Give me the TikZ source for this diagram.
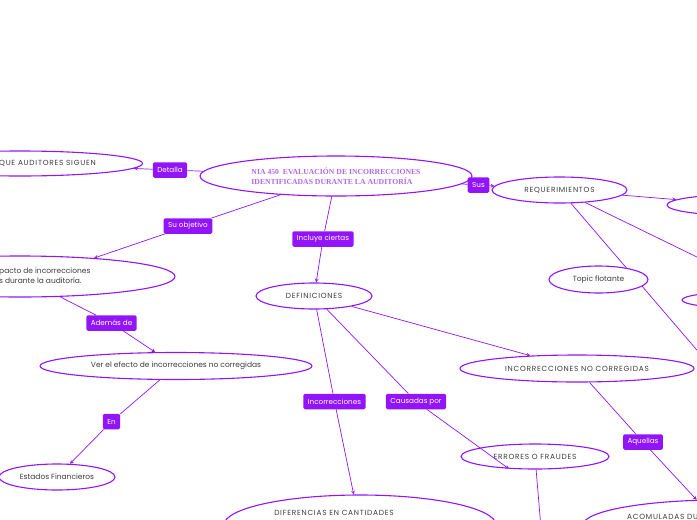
\documentclass[tikz,border=0pt]{standalone}
\usepackage{fontspec}
\setmainfont{Poppins}
\newfontfamily\titlefont{Liberation Serif}
\newfontfamily\capsfont[LetterSpace=10]{Poppins}
\usetikzlibrary{shapes.geometric}

\definecolor{mapline}{RGB}{145,20,250}
\definecolor{maptitle}{RGB}{175,105,235}
\definecolor{maptext}{RGB}{60,60,60}

\begin{document}
\begin{tikzpicture}[x=1pt, y=-1pt, >=stealth,
  topic/.style={ellipse, draw=mapline, line width=1.1pt, inner sep=0pt, text=maptext, font=\fontsize{7.5}{9.5}\selectfont},
  capstopic/.style={topic, font=\capsfont\fontsize{7.4}{9}\selectfont},
  topictext/.style={text=maptext, font=\fontsize{7.5}{9.5}\selectfont, inner sep=0pt},
  capstext/.style={topictext, font=\capsfont\fontsize{7.4}{9}\selectfont},
  tag/.style={rectangle, rounded corners=1.5pt, fill=mapline, text=white, font=\fontsize{7.2}{8}\selectfont, inner xsep=4.5pt, inner ysep=3pt, minimum height=15.5pt},
  link/.style={mapline, line width=0.7pt}]
  \useasboundingbox (0,0) rectangle (697,520);

  % Central topic
  \node[topic, minimum width=272pt, minimum height=40pt, text=maptitle, font=\titlefont\bfseries\fontsize{7.7}{10}\selectfont, align=left] (nia) at (336,176) {NIA 450 \ EVALUACIÓN DE INCORRECCIONES\\IDENTIFICADAS DURANTE LA AUDITORÍA};

  % Left branch (cut by the page edge)
  \node[topic, minimum width=245pt, minimum height=25pt] (procs) at (20,163.5) {};
  \node[capstext, anchor=west] (procstxt) at (-1,163) {QUE AUDITORES SIGUEN};
  \node[topic, minimum width=310pt, minimum height=41pt] (goal) at (20,276.5) {};
  \node[topictext, anchor=west, align=left] (goaltxt) at (-1,275.5) {pacto de incorrecciones\\s durante la auditoría.};
  \node[topic, minimum width=272pt, minimum height=27pt] (effect) at (176,366) {Ver el efecto de incorrecciones no corregidas};
  \node[topic, minimum width=116pt, minimum height=26pt] (fin) at (57,477) {Estados Financieros};

  % Definitions
  \node[capstopic, minimum width=116pt, minimum height=26pt] (defs) at (314,296) {DEFINICIONES};
  \node[capstopic, minimum width=234pt, minimum height=27pt] (uncorr) at (577,368.5) {INCORRECCIONES NO CORREGIDAS};
  \node[capstopic, minimum width=148pt, minimum height=25pt] (errors) at (535,456.5) {ERRORES O FRAUDES};
  \node[topic, minimum width=272pt, minimum height=60pt] (diffs) at (360,525) {};
  \node[capstext] (diffstxt) at (334,513) {DIFERENCIAS EN CANTIDADES};
  \node[topic, minimum width=274pt, minimum height=50pt] (accum) at (720,525) {};
  \node[capstext, anchor=west] (accumtxt) at (627,517) {ACOMULADAS DU};
  \coordinate (errdown) at (542,540);

  % Requirements
  \node[capstopic, minimum width=135pt, minimum height=26pt] (reqs) at (559.5,190) {REQUERIMIENTOS};
  \node[topic, minimum width=150pt, minimum height=21pt] (reqa) at (742,205) {};
  \node[topic, minimum width=120pt, minimum height=16pt] (reqb) at (742,300) {};
  \coordinate (reqc) at (740,278);
  \coordinate (reqd) at (720,377);

  % Link labels
  \node[tag] (detalla) at (170,170) {Detalla};
  \node[tag] (sus) at (478.5,185) {Sus};
  \node[tag] (objetivo) at (188,226) {Su objetivo};
  \node[tag] (incluye) at (323,239) {Incluye ciertas};
  \node[tag] (ademas) at (111.5,323) {Además de};
  \node[tag] (en) at (111.5,421.5) {En};
  \node[tag] (incorr) at (334.5,401.5) {Incorrecciones};
  \node[tag] (causadas) at (416,401.5) {Causadas por};
  \node[tag] (aquellas) at (643,442) {Aquellas};

  % Connectors
  \draw[link] (nia) -- (detalla);
  \draw[link, ->] (detalla) -- (procs);
  \draw[link] (nia) -- (sus);
  \draw[link, ->] (sus) -- (reqs);
  \draw[link] (nia) -- (objetivo);
  \draw[link, ->] (objetivo) -- (goal.14);
  \draw[link] (nia) -- (incluye);
  \draw[link, ->] (incluye) -- (defs);
  \draw[link] (goal) -- (ademas);
  \draw[link, ->] (ademas) -- (effect);
  \draw[link] (effect) -- (en);
  \draw[link, ->] (en) -- (fin);
  \draw[link, ->] (defs) -- (uncorr);
  \draw[link] (defs) -- (incorr);
  \draw[link, ->] (incorr) -- (diffs);
  \draw[link] (defs) -- (causadas);
  \draw[link, ->] (causadas) -- (errors.205);
  \draw[link] (errors) -- (errdown);
  \draw[link] (uncorr) -- (aquellas);
  \draw[link, ->] (aquellas) -- (accum);
  \draw[link, ->] (reqs) -- (reqa);
  \draw[link] (reqs) -- (reqc);
  \draw[link] (reqs) -- (reqd);

  % Floating topic, on top of the line behind it
  \node[topic, fill=white, minimum width=99pt, minimum height=27pt] (floating) at (598.5,279.5) {Topic flotante};
\end{tikzpicture}
\end{document}
